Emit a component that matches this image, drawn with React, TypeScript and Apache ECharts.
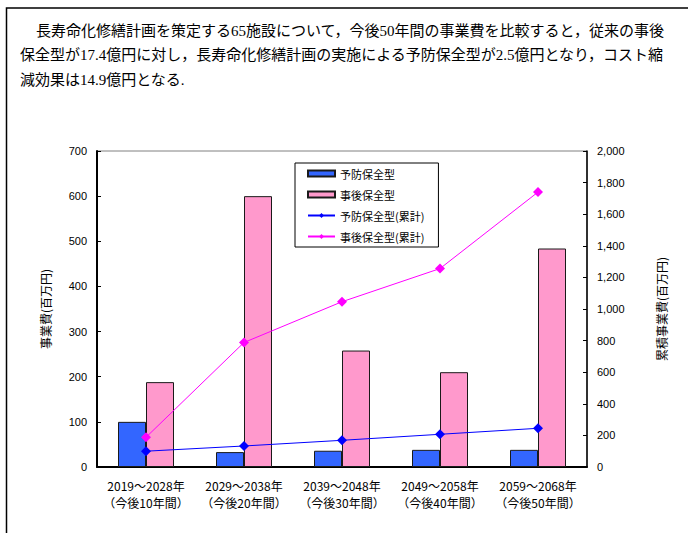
import React, { useEffect, useRef } from "react";
import * as echarts from "echarts";

const categories = [
  "2019～2028年\n（今後10年間）",
  "2029～2038年\n（今後20年間）",
  "2039～2048年\n（今後30年間）",
  "2049～2058年\n（今後40年間）",
  "2059～2068年\n（今後50年間）",
];
const preventive = [100, 33, 36, 38, 38];
const corrective = [188, 600, 258, 210, 484];
const preventiveCum = [100, 133, 169, 207, 245];
const correctiveCum = [188, 788, 1046, 1256, 1740];
const paragraph = [
  "長寿命化修繕計画を策定する65施設について，今後50年間の事業費を比較すると，従来の事後",
  "保全型が17.4億円に対し，長寿命化修繕計画の実施による予防保全型が2.5億円となり，コスト縮",
  "減効果は14.9億円となる.",
];
const seriesNames = ["予防保全型", "事後保全型", "予防保全型(累計)", "事後保全型(累計)"];
const leftAxisName = "事業費(百万円)";
const rightAxisName = "累積事業費(百万円)";

const JP = "'Noto Sans CJK JP', sans-serif";
const LAT = "'Liberation Sans', Arial, sans-serif";
const SERIF = "'Liberation Serif', 'Noto Sans CJK JP', serif";

export default function App() {
  const ref = useRef<HTMLDivElement>(null);
  useEffect(() => {
    document.body.style.margin = "0";
    const chart = echarts.init(ref.current!, null, { renderer: "svg" });
    chart.setOption({
      animation: false,
      backgroundColor: "#fff",
      graphic: [
        {
          type: "rect",
          shape: { x: 6.5, y: 8, width: 720, height: 600 },
          style: { fill: "none", stroke: "#000", lineWidth: 1.5 },
          silent: true,
        },
        ...paragraph.map((t, i) => ({
          type: "text",
          x: i === 0 ? 36 : 20,
          y: [31, 55, 80][i],
          style: {
            text: t,
            fontSize: 15,
            fontFamily: SERIF,
            fill: "#000",
            verticalAlign: "middle",
          },
          silent: true,
        })),
      ],
      grid: {
        left: 97,
        right: 101,
        top: 151,
        bottom: 66,
        show: true,
        borderColor: "#808080",
        borderWidth: 1,
        backgroundColor: "#fff",
      },
      legend: {
        orient: "vertical",
        left: 295,
        top: 163,
        padding: [0, 14, 0, 12],
        itemGap: 0,
        itemWidth: 27,
        itemHeight: 6,
        backgroundColor: "#fff",
        borderColor: "#000",
        borderWidth: 1,
        borderRadius: 0,
        textStyle: { fontSize: 11, fontFamily: JP, color: "#000", lineHeight: 21 },
        data: [
          { name: seriesNames[0], icon: "rect" },
          { name: seriesNames[1], icon: "rect" },
          { name: seriesNames[2] },
          { name: seriesNames[3] },
        ],
      },
      xAxis: {
        type: "category",
        data: categories,
        boundaryGap: true,
        axisLine: { lineStyle: { color: "#000", width: 2 } },
        axisTick: { inside: true, length: 4, lineStyle: { color: "#000" } },
        axisLabel: {
          interval: 0,
          fontSize: 12,
          fontFamily: JP,
          color: "#000",
          lineHeight: 17,
          margin: 10,
        },
        splitLine: { show: false },
      },
      yAxis: [
        {
          type: "value",
          min: 0,
          max: 700,
          interval: 100,
          name: leftAxisName,
          nameLocation: "middle",
          nameRotate: 90,
          nameGap: 46,
          nameTextStyle: { fontSize: 12, fontFamily: JP, color: "#000" },
          axisLine: { show: true, lineStyle: { color: "#000", width: 2 } },
          axisTick: { show: true, inside: true, length: 4, lineStyle: { color: "#000" } },
          axisLabel: { fontSize: 11, fontFamily: LAT, color: "#000", margin: 10 },
          splitLine: { show: false },
        },
        {
          type: "value",
          min: 0,
          max: 2000,
          interval: 200,
          name: rightAxisName,
          nameLocation: "middle",
          nameRotate: 90,
          nameGap: 68,
          nameTextStyle: { fontSize: 12, fontFamily: JP, color: "#000" },
          axisLine: { show: true, lineStyle: { color: "#000", width: 1.5 } },
          axisTick: { show: true, inside: true, length: 4, lineStyle: { color: "#000" } },
          axisLabel: {
            fontSize: 11,
            fontFamily: LAT,
            color: "#000",
            margin: 10,
            formatter: (v: number) => v.toLocaleString("en-US"),
          },
          splitLine: { show: false },
        },
      ],
      series: [
        {
          name: seriesNames[0],
          type: "bar",
          data: preventive,
          barWidth: 28,
          barGap: "0%",
          itemStyle: { color: "#3366FF", borderColor: "#1a1a1a", borderWidth: 1 },
          z: 2,
        },
        {
          name: seriesNames[1],
          type: "bar",
          data: corrective,
          barWidth: 28,
          barGap: "0%",
          itemStyle: { color: "#FF99CC", borderColor: "#1a1a1a", borderWidth: 1 },
          z: 2,
        },
        {
          name: seriesNames[2],
          type: "line",
          yAxisIndex: 1,
          data: preventiveCum,
          symbol: "diamond",
          symbolSize: 10,
          lineStyle: { color: "#0000FF", width: 1 },
          itemStyle: { color: "#0000FF" },
          z: 5,
        },
        {
          name: seriesNames[3],
          type: "line",
          yAxisIndex: 1,
          data: correctiveCum,
          symbol: "diamond",
          symbolSize: 10,
          lineStyle: { color: "#FF00FF", width: 1 },
          itemStyle: { color: "#FF00FF" },
          z: 5,
        },
      ],
    });
    return () => chart.dispose();
  }, []);
  return <div ref={ref} style={{ width: 688, height: 533 }} />;
}
